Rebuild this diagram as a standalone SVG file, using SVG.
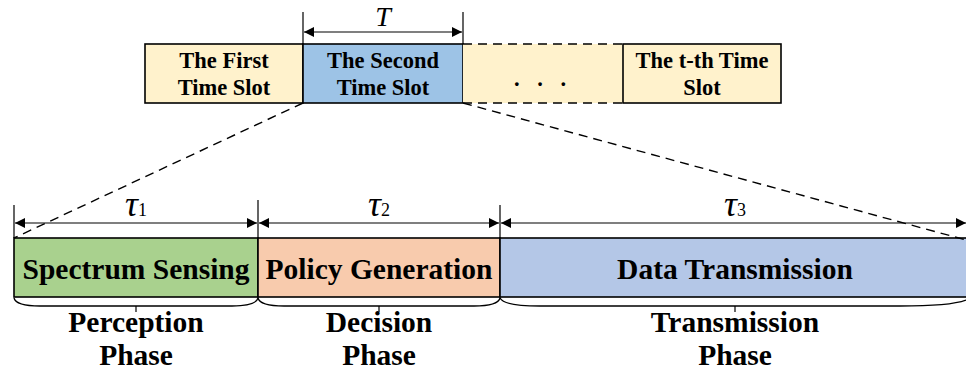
<svg xmlns="http://www.w3.org/2000/svg" width="966" height="372" viewBox="0 0 966 372">
  <defs>
    <marker id="arr" viewBox="0 0 10 10" refX="10" refY="5" markerWidth="11" markerHeight="10" markerUnits="userSpaceOnUse" orient="auto-start-reverse">
      <path d="M0,0 L10,5 L0,10 Z" fill="#000"/>
    </marker>
    <style>
      .box { stroke: #000; stroke-width: 1.6; }
      .slot { fill: #FFF2CC; }
      .lbl { font-family: "Liberation Serif", "Times New Roman", serif; font-weight: bold; fill: #000; text-anchor: middle; }
      .top { font-size: 22.5px; }
      .big { font-size: 29.5px; }
      .tau { font-family: "Liberation Serif", "Times New Roman", serif; font-style: italic; font-size: 36px; }
      .sub { font-family: "Liberation Serif", "Times New Roman", serif; font-size: 18px; font-style: normal; }
      .tick { stroke: #000; stroke-width: 1.2; fill: none; }
      .dim { stroke: #000; stroke-width: 1.2; fill: none; marker-start: url(#arr); marker-end: url(#arr); }
      .dash { stroke: #000; stroke-width: 1.4; stroke-dasharray: 9 6; fill: none; }
      .brace { stroke: #000; stroke-width: 1.3; fill: none; }
    </style>
  </defs>

  <!-- top row of time slots -->
  <g id="slot1">
    <rect class="box slot" x="145" y="44" width="158" height="59"/>
    <text class="lbl top" x="224" y="68">The First</text>
    <text class="lbl top" x="224" y="95">Time Slot</text>
  </g>
  <g id="slot2">
    <rect class="box" x="303" y="44" width="160" height="59" fill="#9DC3E6"/>
    <text class="lbl top" x="383" y="68">The Second</text>
    <text class="lbl top" x="383" y="95">Time Slot</text>
  </g>
  <g id="slot-dots">
    <rect class="slot" x="463" y="44" width="160" height="59"/>
    <path class="dash" d="M463,44 H623 M463,103 H623"/>
    <text class="lbl top" x="543" y="86" style="letter-spacing:6px">. . .</text>
  </g>
  <g id="slot-t">
    <rect class="box slot" x="623" y="44" width="158" height="59"/>
    <text class="lbl top" x="702" y="68">The t-th Time</text>
    <text class="lbl top" x="702" y="95">Slot</text>
  </g>

  <!-- bottom row: phases of one slot -->
  <g id="sensing">
    <rect class="box" x="14" y="238" width="244" height="59" fill="#A9D18E"/>
    <text class="lbl big" x="136" y="279">Spectrum Sensing</text>
  </g>
  <g id="policy">
    <rect class="box" x="258" y="238" width="242" height="59" fill="#F8CBAD"/>
    <text class="lbl big" x="379" y="279">Policy Generation</text>
  </g>
  <g id="transmission">
    <rect class="box" x="500" y="238" width="470" height="59" fill="#B4C7E7"/>
    <text class="lbl big" x="735" y="279">Data Transmission</text>
  </g>

  <!-- phase names -->
  <g id="phase1">
    <text class="lbl big" x="136" y="332">Perception</text>
    <text class="lbl big" x="136" y="365">Phase</text>
  </g>
  <g id="phase2">
    <text class="lbl big" x="379" y="332">Decision</text>
    <text class="lbl big" x="379" y="365">Phase</text>
  </g>
  <g id="phase3">
    <text class="lbl big" x="735" y="332">Transmission</text>
    <text class="lbl big" x="735" y="365">Phase</text>
  </g>

  <!-- connectors, dimensions and braces -->
  <g id="connectors">
    <!-- slot length T -->
    <path class="tick" d="M303,12 V44 M463,12 V44"/>
    <line class="dim" x1="304" y1="32" x2="462" y2="32"/>
    <text class="tau" x="383" y="26" text-anchor="middle" style="font-size:28px">T</text>

    <!-- zoom lines -->
    <path class="dash" d="M303,103 L14,238"/>
    <path class="dash" d="M463,103 L966,240"/>

    <!-- phase durations -->
    <path class="tick" d="M14,205 V238 M258,200 V238 M500,205 V238"/>
    <line class="dim" x1="15" y1="223" x2="257" y2="223"/>
    <line class="dim" x1="259" y1="223" x2="499" y2="223"/>
    <line class="dim" x1="501" y1="223" x2="966" y2="223"/>
    <text class="tau" x="125" y="216">τ<tspan class="sub">1</tspan></text>
    <text class="tau" x="368" y="216">τ<tspan class="sub">2</tspan></text>
    <text class="tau" x="724" y="216">τ<tspan class="sub">3</tspan></text>

    <!-- braces under phases -->
    <path class="brace" d="M14,298 Q16,306 40,306 H232 Q256,306 258,298"/>
    <path class="tick" d="M136,306 V312"/>
    <path class="brace" d="M258,298 Q260,306 284,306 H474 Q498,306 500,298"/>
    <path class="tick" d="M379,306 V312"/>
    <path class="brace" d="M500,298 Q504,306 540,306 H900 Q950,306 966,300"/>
    <path class="tick" d="M735,306 V312"/>
  </g>
</svg>
